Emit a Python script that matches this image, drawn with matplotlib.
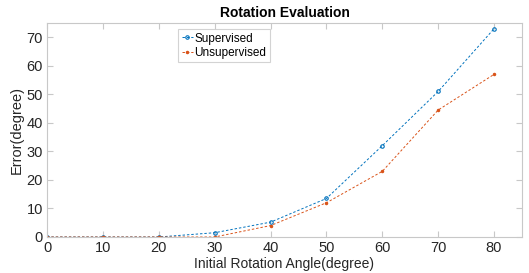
import matplotlib
matplotlib.use("Agg")
import matplotlib.pyplot as plt

angles = [0, 10, 20, 30, 40, 50, 60, 70, 80]
supervised = [0, 0, 0, 1.5, 5.2, 13.5, 32, 51, 73]
unsupervised = [0, 0, 0, 0, 4, 12, 23, 44.5, 57]
xticks = [0, 10, 20, 30, 40, 50, 60, 70, 80]
yticks = [0, 10, 20, 30, 40, 50, 60, 70]

plt.rcParams['font.family'] = ['Liberation Sans', 'DejaVu Sans']

fig = plt.figure(figsize=(5.29, 2.73), dpi=100)
ax = fig.add_axes([47/529, 1-237/273, (522-47)/529, (237-23)/273])

ax.plot(angles, supervised, color='#0072BD', linestyle=(0, (2.5, 2)), linewidth=0.7,
        marker='o', markersize=2.5, markerfacecolor='none', markeredgewidth=0.8, label='Supervised')
ax.plot(angles, unsupervised, color='#D95319', linestyle=(0, (2.5, 2)), linewidth=0.7,
        marker='.', markersize=3, label='Unsupervised')

ax.set_xlim(0, 85)
ax.set_ylim(0, 75)
ax.set_xticks(xticks)
ax.set_yticks(yticks)
for s in ax.spines.values():
    s.set_color('#c8c8c8')
    s.set_linewidth(0.8)
ax.tick_params(direction='in', top=True, right=True, length=4, color='#c8c8c8',
               labelsize=10.5, labelcolor='#262626', pad=3)

ax.set_title('Rotation Evaluation', fontsize=10, fontweight='bold', pad=4)
ax.set_xlabel('Initial Rotation Angle(degree)', fontsize=10, color='#262626', labelpad=1)
ax.set_ylabel('Error(degree)', fontsize=10.5, color='#262626', labelpad=2)

leg = ax.legend(loc='upper left', bbox_to_anchor=((178-47)/475, 1-(29-23)/214),
                fontsize=8.5, frameon=True, fancybox=False, handlelength=1.0,
                handletextpad=0.1, borderpad=0.3, labelspacing=0.2, borderaxespad=0)
leg.get_frame().set_edgecolor('#c8c8c8')
leg.get_frame().set_linewidth(0.8)

fig.savefig('out.png', dpi=100)
